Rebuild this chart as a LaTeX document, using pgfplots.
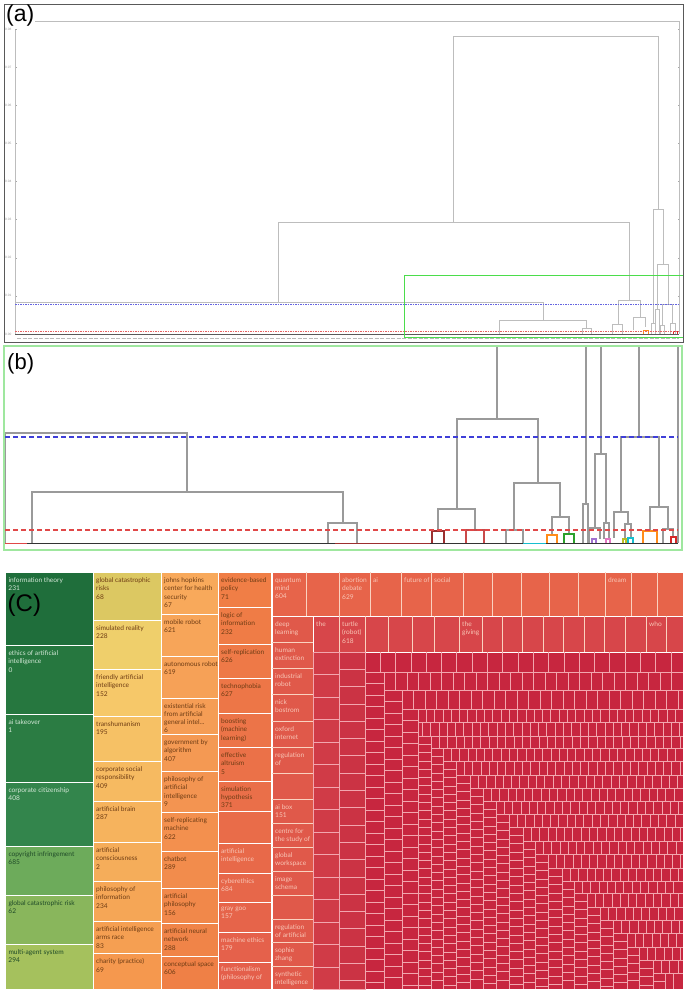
\documentclass[border=0pt]{standalone}
\usepackage{pgfplots}
\pgfplotsset{compat=1.18}
\usepackage{pgfplotstable}
\usepackage{fontspec}
\setmainfont{Liberation Sans}
\newfontfamily\tmf{Lato}

\definecolor{gA}{HTML}{1F6E3B}
\definecolor{gB}{HTML}{26773F}
\definecolor{gC}{HTML}{2B7C43}
\definecolor{gD}{HTML}{33854C}
\definecolor{gE}{HTML}{6DAB5B}
\definecolor{gF}{HTML}{89B65C}
\definecolor{gG}{HTML}{A5C15D}
\definecolor{yA}{HTML}{DCC862}
\definecolor{yB}{HTML}{EFCF6B}
\definecolor{yT}{HTML}{F6C869}
\definecolor{yE}{HTML}{F5984E}
\definecolor{oT}{HTML}{F8A95B}
\definecolor{oE}{HTML}{EF8046}
\definecolor{pT}{HTML}{F07E46}
\definecolor{pE}{HTML}{E45F4B}
\definecolor{rRowA}{HTML}{E7644A}
\definecolor{rColA}{HTML}{E0594A}
\definecolor{rRowB}{HTML}{D7464A}
\definecolor{rStA}{HTML}{D03B47}
\definecolor{rStB}{HTML}{CB3344}
\definecolor{rBg}{HTML}{C7263F}
\definecolor{gridpk}{HTML}{F2A6AE}
\definecolor{sepw}{HTML}{FAD2C0}
\definecolor{txG}{HTML}{D3E8D7}
\definecolor{txDG}{HTML}{1F4A28}
\definecolor{txB}{HTML}{6E3C14}
\definecolor{txR}{HTML}{F8C6B6}
\definecolor{dgray}{HTML}{9A9A9A}
\definecolor{lgray}{HTML}{BDBDBD}
\definecolor{bblue}{HTML}{3F3FD8}
\definecolor{rred}{HTML}{E04848}
\definecolor{bgreen}{HTML}{9FE79F}
\definecolor{agreen}{HTML}{4BDD4B}
\definecolor{tOrange}{HTML}{FF8C1A}
\definecolor{tGreen}{HTML}{2CA02C}
\definecolor{tRed}{HTML}{D62728}
\definecolor{tPurple}{HTML}{A070D0}
\definecolor{tPink}{HTML}{E377C2}
\definecolor{tOlive}{HTML}{BCBD22}
\definecolor{tCyan}{HTML}{17BECF}
\definecolor{tBrown}{HTML}{9C2F2F}
\definecolor{tRed2}{HTML}{C94A4A}

% cell offsets inside the small treemap strips (px from strip start)
\pgfplotstableread{
a b c d e
22.5 17.3 15.3 11.5 8.3
45 34.6 30.6 23 16.6
67.5 51.9 45.9 34.5 24.9
90 69.2 61.2 46 33.2
112.5 86.5 76.5 57.5 41.5
135 103.8 91.8 69 49.8
157.5 121.1 107.1 80.5 58.1
180 138.4 122.4 92 66.4
202.5 155.7 137.7 103.5 74.7
225 173 153 115 83
247.5 190.3 168.3 126.5 91.3
270 207.6 183.6 138 99.6
292.5 224.9 198.9 149.5 107.9
315 242.2 214.2 161 116.2
999 259.5 229.5 172.5 124.5
999 276.8 244.8 184 132.8
999 294.1 260.1 195.5 141.1
999 311.4 275.4 207 149.4
999 328.7 290.7 218.5 157.7
999 999 306 230 166
999 999 999 241.5 174.3
999 999 999 253 182.6
999 999 999 264.5 190.9
999 999 999 276 199.2
999 999 999 287.5 207.5
999 999 999 299 215.8
999 999 999 310.5 224.1
999 999 999 999 232.4
999 999 999 999 240.7
999 999 999 999 249
999 999 999 999 257.3
999 999 999 999 265.6
}\offs

\newcommand{\tmcell}[5]{\addplot[fill=#5, draw=white, line width=0.9pt] coordinates {(#1,#2)(#3,#2)(#3,#4)(#1,#4)} --cycle;}
\newcommand{\tmlab}[4]{\node[anchor=north west, inner sep=0pt, align=left, font=\tmf\fontsize{6.6}{8.3}\selectfont, text=#3] at (#1,#2) {#4};}
\newcommand{\tmrow}[4]{\addplot[only marks, mark=|, mark size=#3/2, color=gridpk, mark options={line width=0.75pt}] table[x expr=\thisrow{#4}+#1, y expr=#2+#3/2, restrict x to domain=#1:681] {\offs};}
\newcommand{\tmcol}[4]{\addplot[only marks, mark=-, mark size=#3/2, color=gridpk, mark options={line width=0.75pt}] table[x expr=#1+#3/2, y expr=\thisrow{#4}+#2, restrict y to domain=#2:987] {\offs};}

\begin{document}
\begin{tikzpicture}
% ---------- ticks of panel (a)
\begin{axis}[at={(15pt,659pt)}, anchor=south west, scale only axis, width=664pt, height=313pt,
  xmin=0, xmax=1, ymin=0, ymax=0.0821, xtick=\empty,
  ytick={0,0.01,0.02,0.03,0.04,0.05,0.06,0.07,0.08},
  scaled y ticks=false,
  axis line style={draw=none},
  major tick length=1.5pt, tick style={draw=gray!70, line width=0.3pt},
  yticklabel style={font=\fontsize{3.2}{3.2}\selectfont, text=gray!80},
  /pgf/number format/.cd, fixed, fixed zerofill, precision=2, assume math mode=true]
\addplot[draw=none] coordinates {(0,0)};
\end{axis}

% ---------- everything else in pixel coordinates
\begin{axis}[at={(0pt,0pt)}, anchor=south west, x=1pt, y=1pt, y dir=reverse,
  xmin=0, xmax=685, ymin=0, ymax=993, enlargelimits=false, hide axis, clip=false,
  unbounded coords=jump]

% ===== panel (a)
\addplot[lgray, line width=0.6pt] coordinates {(15,334)(15,30) (nan,nan) (35,21)(679,21)(679,334)};
\addplot[lgray, line width=0.7pt] coordinates {
(453,222)(453,36)(658,36)(658,209) (nan,nan)
(278,302)(278,222)(629,222)(629,300) (nan,nan)
(15,334)(15,302)(543,302)(543,320) (nan,nan)
(499,334)(499,320)(586,320)(586,328) (nan,nan)
(582,334)(582,328)(591,328)(591,334) (nan,nan)
(618,324)(618,300)(640,300)(640,317) (nan,nan)
(612,334)(612,324)(622,324)(622,334) (nan,nan)
(633,330)(633,317)(645,317)(645,327) (nan,nan)
(653,323)(653,209)(663,209)(663,264) (nan,nan)
(657,309)(657,264)(668,264)(668,304) (nan,nan)
(662,325)(662,304)(672,304)(672,323) (nan,nan)
(655,334)(655,309)(659,309)(659,334) (nan,nan)
(660,334)(660,325)(664,325)(664,334) (nan,nan)
(670,334)(670,323)(675,323)(675,334) (nan,nan)
(651,334)(651,323)(655,323)(655,334)
};
\addplot[tOrange, line width=0.6pt] coordinates {(643,334)(643,330)(648,330)(648,334)};
\addplot[tRed, line width=0.6pt] coordinates {(673,334)(673,331)(677,331)(677,334)};
\addplot[bblue!80, line width=0.7pt, dash pattern=on 1.5pt off 1pt] coordinates {(15,304)(679,304)};
\addplot[rred!85, line width=0.7pt, dash pattern=on 1.5pt off 1pt] coordinates {(15,331)(679,331)};
\addplot[black!65, line width=0.6pt] coordinates {(15,334)(679,334)};
\addplot[gray!55, line width=1.3pt, dash pattern=on 4pt off 1.5pt] coordinates {(17,338.5)(679,338.5)};
\addplot[agreen, line width=1pt] coordinates {(404,275)(683,275)(683,337)(404,337)} --cycle;
\addplot[black!65, line width=0.8pt] coordinates {(4,4)(683,4)(683,342)(4,342)} --cycle;
\node[anchor=north west, inner sep=0pt, font=\fontsize{23}{23}\selectfont] at (6,5) {(a)};

% ===== panel (b)
\addplot[dgray, line width=1.1pt] coordinates {
(5,543)(5,433)(187,433)(187,492) (nan,nan)
(32,543)(32,492)(343,492)(343,523) (nan,nan)
(328,543)(328,523)(357,523)(357,543) (nan,nan)
(497,346)(497,419) (nan,nan)
(457,509)(457,419)(538,419)(538,483) (nan,nan)
(438,531)(438,509)(475,509)(475,530) (nan,nan)
(514,530)(514,483)(560,483)(560,517) (nan,nan)
(552,535)(552,517)(569,517)(569,534) (nan,nan)
(506,543)(506,530)(523,530)(523,543) (nan,nan)
(586,346)(586,504) (nan,nan)
(583,543)(583,504)(588,504)(588,543) (nan,nan)
(601,346)(601,454) (nan,nan)
(595,528)(595,454)(606,454)(606,523) (nan,nan)
(589,543)(589,528)(600,528)(600,539) (nan,nan)
(604,539)(604,523)(609,523)(609,539) (nan,nan)
(639,346)(639,437) (nan,nan)
(621,512)(621,437)(659,437)(659,507) (nan,nan)
(614,538)(614,512)(628,512)(628,524) (nan,nan)
(625,539)(625,524)(631,524)(631,538) (nan,nan)
(650,531)(650,507)(668,507)(668,529) (nan,nan)
(663,543)(663,529)(673,529)(673,537) (nan,nan)
(678,346)(678,543)
};
\addplot[tBrown, line width=1.1pt] coordinates {(432,543)(432,531)(444,531)(444,543)};
\addplot[tRed2, line width=1.1pt] coordinates {(466,543)(466,530)(484,530)(484,543)};
\addplot[tOrange, line width=1.1pt] coordinates {(547,543)(547,535)(557,535)(557,543)};
\addplot[tGreen, line width=1.1pt] coordinates {(564,543)(564,534)(574,534)(574,543)};
\addplot[tPurple, line width=1.1pt] coordinates {(592,543)(592,539)(596,539)(596,543)};
\addplot[tPink, line width=1.1pt] coordinates {(606,543)(606,539)(610,539)(610,543)};
\addplot[tOlive, line width=1.1pt] coordinates {(623,543)(623,539)(626,539)(626,543)};
\addplot[tCyan, line width=1.1pt] coordinates {(628,543)(628,538)(633,538)(633,543)};
\addplot[tOrange, line width=1.1pt] coordinates {(643,543)(643,531)(657,531)(657,543)};
\addplot[tRed, line width=1.1pt] coordinates {(671,543)(671,537)(676,537)(676,543)};
\addplot[black!80, line width=1.1pt] coordinates {(5,543.5)(678,543.5)};
\addplot[rred, line width=1.2pt] coordinates {(5,543.5)(27,543.5)};
\addplot[tBrown, line width=1.2pt] coordinates {(335,543.5)(430,543.5)};
\addplot[tCyan, line width=1.2pt] coordinates {(523,543.5)(546,543.5)};
\addplot[bblue, line width=1.4pt, dash pattern=on 5pt off 3pt] coordinates {(5,437)(678,437)};
\addplot[rred, line width=1.4pt, dash pattern=on 5pt off 3pt] coordinates {(5,530)(678,530)};
\addplot[bgreen, line width=1.3pt] coordinates {(4,346)(682,346)(682,550)(4,550)} --cycle;
\node[anchor=north west, inner sep=0pt, font=\fontsize{22}{22}\selectfont] at (7,353) {(b)};

% ===== panel (C): treemap
% column 1
\tmcell{5}{572}{93}{645}{gA}
\tmcell{5}{645}{93}{714}{gB}
\tmcell{5}{714}{93}{782}{gC}
\tmcell{5}{782}{93}{846}{gD}
\tmcell{5}{846}{93}{895}{gE}
\tmcell{5}{895}{93}{944}{gF}
\tmcell{5}{944}{93}{989}{gG}
% column 2
\tmcell{93}{572}{161}{620}{yA}
\tmcell{93}{620}{161}{669}{yB}
\tmcell{93}{669}{161}{716}{yT}
\tmcell{93}{716}{161}{761}{yT!86!yE}
\tmcell{93}{761}{161}{801}{yT!71!yE}
\tmcell{93}{801}{161}{842}{yT!57!yE}
\tmcell{93}{842}{161}{881}{yT!43!yE}
\tmcell{93}{881}{161}{921}{yT!29!yE}
\tmcell{93}{921}{161}{953}{yT!14!yE}
\tmcell{93}{953}{161}{989}{yE}
% column 3
\tmcell{161}{572}{218}{614}{oT}
\tmcell{161}{614}{218}{656}{oT!90!oE}
\tmcell{161}{656}{218}{698}{oT!80!oE}
\tmcell{161}{698}{218}{734}{oT!70!oE}
\tmcell{161}{734}{218}{771}{oT!60!oE}
\tmcell{161}{771}{218}{812}{oT!50!oE}
\tmcell{161}{812}{218}{851}{oT!40!oE}
\tmcell{161}{851}{218}{888}{oT!30!oE}
\tmcell{161}{888}{218}{923}{oT!20!oE}
\tmcell{161}{923}{218}{956}{oT!10!oE}
\tmcell{161}{956}{218}{989}{oE}
% column 4
\tmcell{218}{572}{271}{607}{pT}
\tmcell{218}{607}{271}{644}{pT!92!pE}
\tmcell{218}{644}{271}{678}{pT!83!pE}
\tmcell{218}{678}{271}{713}{pT!75!pE}
\tmcell{218}{713}{271}{747}{pT!67!pE}
\tmcell{218}{747}{271}{781}{pT!58!pE}
\tmcell{218}{781}{271}{811}{pT!50!pE}
\tmcell{218}{811}{271}{843}{pT!42!pE}
\tmcell{218}{843}{271}{873}{pT!33!pE}
\tmcell{218}{873}{271}{902}{pT!25!pE}
\tmcell{218}{902}{271}{932}{pT!17!pE}
\tmcell{218}{932}{271}{962}{pT!8!pE}
\tmcell{218}{962}{271}{989}{pE}
% red area
\tmcell{272}{572}{683}{616}{rRowA}
\tmcell{272}{616}{313}{989}{rColA}
\tmcell{313}{616}{683}{652}{rRowB}
\tmcell{313}{652}{683}{989}{rBg}
\addplot[fill=rStA, draw=gridpk, line width=0.8pt] coordinates {(313,652)(339,652)(339,989)(313,989)} --cycle;
\addplot[fill=rStB, draw=gridpk, line width=0.8pt] coordinates {(339,652)(365,652)(365,989)(339,989)} --cycle;
\addplot[only marks, mark=|, mark size=22, color=sepw, mark options={line width=0.9pt}] coordinates {(306,594)(339,594)(370,594)(401,594)(431,594)(463,594)(492,594)(521,594)(549,594)(578,594)(605,594)(631,594)(657,594)};
\addplot[only marks, mark=|, mark size=18, color=sepw, mark options={line width=0.9pt}] coordinates {(339,634)(365,634)(388,634)(412,634)(434,634)(459,634)(482,634)(502,634)(522,634)(543,634)(563,634)(584,634)(604,634)(625,634)(646,634)(666,634)};
\addplot[only marks, mark=-, mark size=20.5, color=sepw, mark options={line width=0.9pt}] coordinates {(292.5,642)(292.5,668)(292.5,694)(292.5,721)(292.5,747)(292.5,773)(292.5,799)(292.5,823)(292.5,847)(292.5,871)(292.5,895)(292.5,919)(292.5,942)(292.5,966)};
\addplot[gridpk, line width=0.8pt] coordinates {
(365,672)(683,672) (nan,nan)
(384,672)(384,989) (nan,nan) (384,690)(683,690) (nan,nan)
(402,690)(402,989) (nan,nan) (402,709)(683,709) (nan,nan)
(418,709)(418,989) (nan,nan) (418,722)(683,722) (nan,nan) (418,736)(683,736) (nan,nan)
(431,736)(431,989) (nan,nan) (431,748)(683,748) (nan,nan)
(443,748)(443,989) (nan,nan) (443,761)(683,761) (nan,nan)
(456,761)(456,989) (nan,nan) (456,775)(683,775) (nan,nan)
(470,775)(470,989) (nan,nan) (470,788)(683,788) (nan,nan)
(483,788)(483,989) (nan,nan) (483,801)(683,801) (nan,nan)
(496,801)(496,989) (nan,nan) (496,814)(683,814) (nan,nan)
(509,814)(509,989) (nan,nan) (509,827)(683,827) (nan,nan)
(523,827)(523,989) (nan,nan) (523,841)(683,841) (nan,nan)
(535,841)(535,989) (nan,nan) (535,854)(683,854) (nan,nan)
(548,854)(548,989) (nan,nan) (548,868)(683,868) (nan,nan)
(562,868)(562,989) (nan,nan) (562,881)(683,881) (nan,nan)
(574,881)(574,989) (nan,nan) (574,893)(683,893) (nan,nan)
(587,893)(587,989) (nan,nan) (587,907)(683,907) (nan,nan)
(600,907)(600,989) (nan,nan) (600,920)(683,920) (nan,nan)
(613,920)(613,989) (nan,nan) (613,933)(683,933) (nan,nan)
(627,933)(627,989) (nan,nan) (627,947)(683,947) (nan,nan)
(639,947)(639,989) (nan,nan) (639,960)(683,960) (nan,nan)
(653,960)(653,989) (nan,nan) (653,973)(683,973) (nan,nan)
(665,973)(665,989)
};
\tmcol{313}{652}{26}{a}
\tmcol{339}{652}{26}{b}
\tmrow{365}{652}{20}{c}
\tmcol{365}{672}{19}{d}
\tmrow{384}{672}{18}{d}
\tmcol{384}{690}{18}{d}
\tmrow{402}{690}{19}{d}
\tmcol{402}{709}{16}{d}
\tmrow{418}{709}{13}{e}
\tmrow{414}{722}{14}{e}
\tmcol{418}{736}{13}{e}
\tmrow{431}{736}{12}{e}
\tmcol{431}{748}{12}{e}
\tmrow{443}{748}{13}{e}
\tmcol{443}{761}{13}{e}
\tmrow{456}{761}{14}{e}
\tmcol{456}{775}{14}{e}
\tmrow{470}{775}{13}{e}
\tmcol{470}{788}{13}{e}
\tmrow{483}{788}{13}{e}
\tmcol{483}{801}{13}{e}
\tmrow{496}{801}{13}{e}
\tmcol{496}{814}{13}{e}
\tmrow{509}{814}{13}{e}
\tmcol{509}{827}{14}{e}
\tmrow{523}{827}{14}{e}
\tmcol{523}{841}{12}{e}
\tmrow{535}{841}{13}{e}
\tmcol{535}{854}{13}{e}
\tmrow{548}{854}{14}{e}
\tmcol{548}{868}{14}{e}
\tmrow{562}{868}{13}{e}
\tmcol{562}{881}{12}{e}
\tmrow{574}{881}{12}{e}
\tmcol{574}{893}{13}{e}
\tmrow{587}{893}{14}{e}
\tmcol{587}{907}{13}{e}
\tmrow{600}{907}{13}{e}
\tmcol{600}{920}{13}{e}
\tmrow{613}{920}{13}{e}
\tmcol{613}{933}{14}{e}
\tmrow{627}{933}{14}{e}
\tmcol{627}{947}{12}{e}
\tmrow{639}{947}{13}{e}
\tmcol{639}{960}{14}{e}
\tmrow{653}{960}{13}{e}
\tmcol{653}{973}{12}{e}
\tmrow{665}{973}{16}{e}

% labels
\tmlab{8.3}{577.5}{txG}{information theory\\231}
\tmlab{8.3}{650.5}{txG}{ethics of artificial\\intelligence\\0}
\tmlab{8.3}{719.5}{txG}{ai takeover\\1}
\tmlab{8.3}{787.5}{txG}{corporate citizenship\\408}
\tmlab{8.3}{851.5}{txDG}{copyright infringement\\685}
\tmlab{8.3}{900.5}{txDG}{global catastrophic risk\\62}
\tmlab{8.3}{949.5}{txDG}{multi-agent system\\294}
\tmlab{96}{577.5}{txB}{global catastrophic\\risks\\68}
\tmlab{96}{625.5}{txB}{simulated reality\\228}
\tmlab{96}{674.5}{txB}{friendly artificial\\intelligence\\152}
\tmlab{96}{721.5}{txB}{transhumanism\\195}
\tmlab{96}{766.5}{txB}{corporate social\\responsibility\\409}
\tmlab{96}{806.5}{txB}{artificial brain\\287}
\tmlab{96}{847.5}{txB}{artificial\\consciousness\\2}
\tmlab{96}{886.5}{txB}{philosophy of\\information\\234}
\tmlab{96}{926.5}{txB}{artificial intelligence\\arms race\\83}
\tmlab{96}{958.5}{txB}{charity (practice)\\69}
\tmlab{164}{577.5}{txB}{johns hopkins\\center for health\\security\\67}
\tmlab{164}{619.5}{txB}{mobile robot\\621}
\tmlab{164}{661.5}{txB}{autonomous robot\\619}
\tmlab{164}{703}{txB}{existential risk\\from artificial\\general intel...\\6}
\tmlab{164}{739.5}{txB}{government by\\algorithm\\407}
\tmlab{164}{776.5}{txB}{philosophy of\\artificial\\intelligence\\9}
\tmlab{164}{817.5}{txB}{self-replicating\\machine\\622}
\tmlab{164}{856.5}{txB}{chatbot\\289}
\tmlab{164}{893.5}{txB}{artificial\\philosophy\\156}
\tmlab{164}{928.5}{txB}{artificial neural\\network\\288}
\tmlab{164}{961.5}{txB}{conceptual space\\606}
\tmlab{221}{577.5}{txB}{evidence-based\\policy\\71}
\tmlab{221}{612.5}{txB}{logic of\\information\\232}
\tmlab{221}{649.5}{txB}{self-replication\\626}
\tmlab{221}{683.5}{txB}{technophobia\\627}
\tmlab{221}{718.5}{txB}{boosting\\(machine\\learning)}
\tmlab{221}{752.5}{txB}{effective\\altruism\\5}
\tmlab{221}{786}{txB}{simulation\\hypothesis\\371}
\tmlab{221}{848.5}{txR}{artificial\\intelligence}
\tmlab{221}{878}{txR}{cyberethics\\684}
\tmlab{221}{907}{txR}{gray goo\\157}
\tmlab{221}{937}{txR}{machine ethics\\179}
\tmlab{221}{966.5}{txR}{functionalism\\(philosophy of}
\tmlab{275}{577.5}{txR}{quantum\\mind\\604}
\tmlab{342}{577.5}{txR}{abortion\\debate\\629}
\tmlab{373}{577.5}{txR}{ai}
\tmlab{404}{577.5}{txR}{future of}
\tmlab{434}{577.5}{txR}{social}
\tmlab{608}{577.5}{txR}{dream}
\tmlab{275}{621.5}{txR}{deep\\learning}
\tmlab{275}{647.5}{txR}{human\\extinction}
\tmlab{275}{673.5}{txR}{industrial\\robot}
\tmlab{275}{699.5}{txR}{nick\\bostrom}
\tmlab{275}{726.5}{txR}{oxford\\internet}
\tmlab{275}{752.5}{txR}{regulation\\of}
\tmlab{275}{804}{txR}{ai box\\151}
\tmlab{275}{828}{txR}{centre for\\the study of}
\tmlab{275}{852}{txR}{global\\workspace}
\tmlab{275}{876}{txR}{image\\schema}
\tmlab{275}{924}{txR}{regulation\\of artificial}
\tmlab{275}{947}{txR}{sophie\\zhang}
\tmlab{275}{971}{txR}{synthetic\\intelligence}
\tmlab{316}{621.5}{txR}{the}
\tmlab{342}{621.5}{txR}{turtle\\(robot)\\618}
\tmlab{462}{621.5}{txR}{the\\giving}
\tmlab{649}{621.5}{txR}{who}
\node[anchor=north west, inner sep=0pt, font=\fontsize{24}{24}\selectfont] at (7.5,594) {(C)};
\end{axis}
\pgfresetboundingbox
\path[use as bounding box] (0pt,0pt) rectangle (685pt,993pt);
\end{tikzpicture}
\end{document}
